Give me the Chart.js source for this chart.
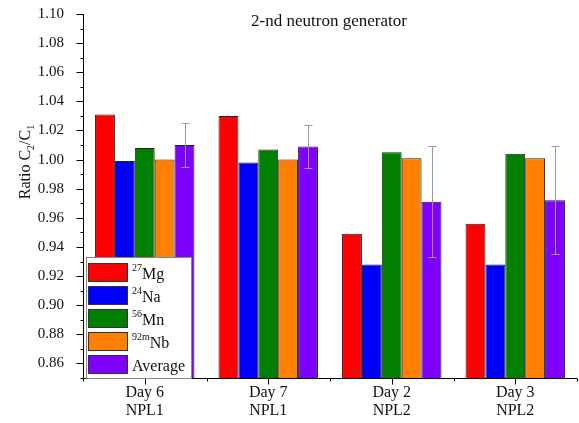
<!DOCTYPE html>
<html>
<head>
<meta charset="utf-8">
<script src="https://cdn.jsdelivr.net/npm/chart.js@4.4.1/dist/chart.umd.min.js"></script>
<style>
html,body{margin:0;padding:0;background:#fff;}
#wrap{width:579px;height:423px;position:relative;}
</style>
</head>
<body>
<div id="wrap"><canvas id="c" width="579" height="423"></canvas></div>
<script>
const days = ['Day 6', 'Day 7', 'Day 2', 'Day 3'];
const labs = ['NPL1', 'NPL1', 'NPL2', 'NPL2'];
const seriesMass = ['27', '24', '56', '92m'];
const seriesElem = ['Mg', 'Na', 'Mn', 'Nb'];
const mg = [1.031, 1.030, 0.949, 0.956];
const na = [0.999, 0.998, 0.928, 0.928];
const mn = [1.008, 1.007, 1.005, 1.004];
const nb = [1.000, 1.000, 1.001, 1.001];
const avg = [1.010, 1.009, 0.971, 0.972];
const avgErr = [0.015, 0.015, 0.038, 0.037];
const yMin = 0.85, yMax = 1.10;
const yTicks = [0.86, 0.88, 0.90, 0.92, 0.94, 0.96, 0.98, 1.00, 1.02, 1.04, 1.06, 1.08, 1.10];
const colors = ['#ff0000', '#0000ff', '#007f00', '#ff8000', '#8000ff'];

const FONT = '"Liberation Serif", "Times New Roman", serif';

const seriesValues = [mg, na, mn, nb, avg];
const seriesNames = ['27Mg', '24Na', '56Mn', '92mNb', 'Average'];

const datasets = seriesValues.map((vals, i) => ({
  label: seriesNames[i],
  data: vals,
  backgroundColor: colors[i],
  borderColor: '#222',
  borderWidth: 1,
  borderSkipped: 'bottom',
  categoryPercentage: 0.805,
  barPercentage: 1.0
}));

const decorPlugin = {
  id: 'decor',
  afterDatasetsDraw(chart) {
    const ctx = chart.ctx;
    const y = chart.scales.y;
    const meta = chart.getDatasetMeta(4);
    ctx.save();
    ctx.strokeStyle = '#9a9a9a';
    ctx.lineWidth = 1;
    meta.data.forEach((bar, i) => {
      const cx = Math.round(bar.x) + 0.5;
      const yt = Math.round(y.getPixelForValue(avg[i] + avgErr[i])) + 0.5;
      const yb = Math.round(y.getPixelForValue(avg[i] - avgErr[i])) + 0.5;
      ctx.beginPath();
      ctx.moveTo(cx, yt); ctx.lineTo(cx, yb);
      ctx.moveTo(cx - 4, yt); ctx.lineTo(cx + 4, yt);
      ctx.moveTo(cx - 4, yb); ctx.lineTo(cx + 4, yb);
      ctx.stroke();
    });
    ctx.restore();
  },
  afterDraw(chart) {
    const ctx = chart.ctx;
    const x = chart.scales.x, y = chart.scales.y;
    const ca = chart.chartArea;
    ctx.save();
    ctx.strokeStyle = '#000';
    ctx.lineWidth = 1;
    ctx.beginPath();
    ctx.moveTo(Math.round(ca.left) + 0.5, ca.top);
    ctx.lineTo(Math.round(ca.left) + 0.5, Math.round(ca.bottom) + 0.5);
    ctx.lineTo(ca.right, Math.round(ca.bottom) + 0.5);
    ctx.stroke();
    const lx = Math.round(ca.left) + 0.5;
    for (let k = 0; k <= Math.round((yMax - yMin) / 0.01); k++) {
      const v = yMin + k * 0.01;
      const py = Math.round(y.getPixelForValue(v)) + 0.5;
      const major = Math.round(v * 100) % 2 === 0;
      ctx.beginPath();
      ctx.moveTo(lx - (major ? 7 : 3), py);
      ctx.lineTo(lx, py);
      ctx.stroke();
    }
    const by = Math.round(ca.bottom) + 0.5;
    const n = days.length;
    const w = (ca.right - ca.left) / n;
    for (let i = 0; i <= n; i++) {
      const px = Math.round(ca.left + i * w) + 0.5;
      ctx.beginPath(); ctx.moveTo(px, by); ctx.lineTo(px, by + 3); ctx.stroke();
    }
    for (let i = 0; i < n; i++) {
      const px = Math.round(x.getPixelForValue(i)) + 0.5;
      ctx.beginPath(); ctx.moveTo(px, by); ctx.lineTo(px, by + 6); ctx.stroke();
    }
    ctx.fillStyle = '#111';
    ctx.font = '17px ' + FONT;
    ctx.textAlign = 'center';
    ctx.textBaseline = 'middle';
    ctx.fillText('2-nd neutron generator', 329, 22);

    ctx.save();
    ctx.translate(24, 162);
    ctx.rotate(-Math.PI / 2);
    const parts = [['Ratio C', 16, 0], ['2', 10, 4], ['/C', 16, 0], ['1', 10, 4]];
    let total = 0;
    parts.forEach(p => { ctx.font = p[1] + 'px ' + FONT; total += ctx.measureText(p[0]).width; });
    let cx = -total / 2;
    ctx.textAlign = 'left';
    ctx.textBaseline = 'alphabetic';
    parts.forEach(p => {
      ctx.font = p[1] + 'px ' + FONT;
      ctx.fillText(p[0], cx, 6 + p[2]);
      cx += ctx.measureText(p[0]).width;
    });
    ctx.restore();

    const lgX = 86, lgY = 257, lgW = 105, lgH = 121;
    ctx.fillStyle = '#fff';
    ctx.fillRect(lgX, lgY, lgW, lgH);
    ctx.strokeStyle = '#888';
    ctx.strokeRect(lgX + 0.5, lgY + 0.5, lgW, lgH);
    for (let i = 0; i < 5; i++) {
      const sy = 263 + i * 23.1;
      ctx.fillStyle = colors[i];
      ctx.fillRect(88, sy, 39, 18);
      ctx.strokeStyle = '#333';
      ctx.strokeRect(88.5, Math.round(sy) + 0.5, 39, 18);
      ctx.fillStyle = '#111';
      ctx.textAlign = 'left';
      ctx.textBaseline = 'alphabetic';
      const base = sy + 16;
      if (i < 4) {
        ctx.font = '10px ' + FONT;
        ctx.fillText(seriesMass[i], 132, base - 8);
        const mw = ctx.measureText(seriesMass[i]).width;
        ctx.font = '16px ' + FONT;
        ctx.fillText(seriesElem[i], 132 + mw, base);
      } else {
        ctx.font = '16px ' + FONT;
        ctx.fillText(seriesNames[i], 132, base);
      }
    }
    ctx.restore();
  }
};

new Chart(document.getElementById('c'), {
  type: 'bar',
  data: {
    labels: days.map((d, i) => [d, labs[i]]),
    datasets: datasets
  },
  options: {
    responsive: false,
    animation: false,
    layout: { padding: { top: 14, right: 2, left: 0, bottom: 0 } },
    plugins: { legend: { display: false }, tooltip: { enabled: false }, title: { display: false } },
    scales: {
      x: {
        grid: { display: false },
        border: { display: false },
        ticks: {
          color: '#111',
          font: { family: FONT, size: 16, lineHeight: 1.12 },
          padding: -2,
          maxRotation: 0
        },
        afterFit(s) { s.height = 45; s.paddingLeft = 0; s.paddingRight = 0; }
      },
      y: {
        min: yMin, max: yMax,
        grid: { display: false },
        border: { display: false },
        afterBuildTicks(s) { s.ticks = yTicks.map(v => ({ value: v })); },
        ticks: {
          color: '#111',
          font: { family: FONT, size: 15 },
          padding: 11,
          callback: (v) => Number(v).toFixed(2)
        },
        afterFit(s) { s.width = 83; s.paddingTop = 0; s.paddingBottom = 0; }
      }
    }
  },
  plugins: [decorPlugin]
});
</script>
</body>
</html>
